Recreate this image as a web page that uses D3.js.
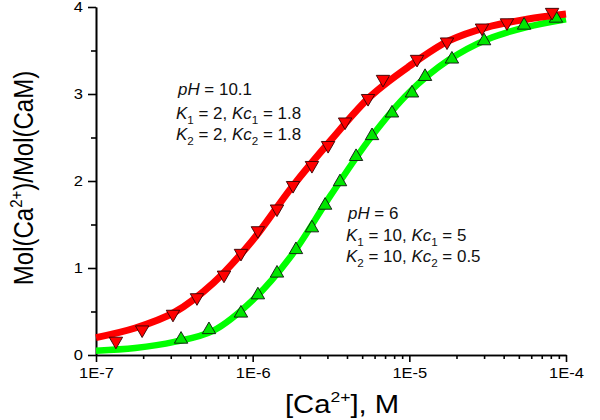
<!DOCTYPE html>
<html lang="en">
  <head>
    <meta charset="UTF-8" />
    <title>Ca binding</title>
    <script src="https://d3js.org/d3.v7.min.js"></script>
    <style>
      body {
        margin: 0;
        background: #fff;
      }
      svg {
        font-family: Arial, "Liberation Sans", sans-serif;
      }
      .axis path,
      .axis line {
        stroke: #000;
        stroke-width: 1.6;
      }
      .axis text {
        font-size: 15px;
        fill: #000;
      }
    </style>
  </head>
  <body>
    <svg id="chart" width="600" height="420"></svg>
    <script>
      // fitted curves, every quarter decade
      const fitX = [1e-7, 1.78e-7, 3.16e-7, 5.62e-7, 1e-6, 1.78e-6, 3.16e-6, 5.62e-6, 1e-5, 1.78e-5, 3.16e-5, 5.62e-5, 1e-4];
      const redFitY = [0.2, 0.31, 0.49, 0.83, 1.32, 1.93, 2.47, 2.97, 3.32, 3.61, 3.77, 3.86, 3.92];
      const greenFitY = [0.05, 0.08, 0.15, 0.28, 0.63, 1.15, 1.84, 2.49, 3.02, 3.39, 3.63, 3.77, 3.86];

      // measured points, pH 10.1 (down triangles)
      const redX = [1.34e-7, 1.97e-7, 3.1e-7, 4.41e-7, 6.56e-7, 8.42e-7, 1.08e-6, 1.43e-6, 1.81e-6, 2.39e-6, 3.03e-6, 3.89e-6, 5.45e-6, 6.79e-6, 1.12e-5, 1.74e-5, 2.91e-5, 4.2e-5, 8.15e-5];
      const redY = [0.16, 0.29, 0.47, 0.66, 0.92, 1.17, 1.43, 1.68, 1.95, 2.18, 2.41, 2.68, 2.95, 3.17, 3.4, 3.6, 3.76, 3.82, 3.94];

      // measured points, pH 6 (up triangles)
      const greenX = [3.49e-7, 5.26e-7, 8.42e-7, 1.08e-6, 1.43e-6, 1.89e-6, 2.39e-6, 2.9e-6, 3.61e-6, 4.57e-6, 5.78e-6, 7.75e-6, 1.04e-5, 1.26e-5, 1.87e-5, 3.0e-5, 5.4e-5, 8.63e-5];
      const greenY = [0.18, 0.29, 0.48, 0.69, 0.94, 1.21, 1.46, 1.72, 1.99, 2.28, 2.52, 2.78, 3.01, 3.2, 3.4, 3.61, 3.79, 3.87];

      const xMajor = [1e-7, 1e-6, 1e-5, 1e-4];
      const xMajorLabels = ["1E-7", "1E-6", "1E-5", "1E-4"];
      const yMajor = [0, 1, 2, 3, 4];
      const yMinor = [0.5, 1.5, 2.5, 3.5];

      const svg = d3.select("#chart");
      const x = d3.scaleLog().domain([1e-7, 1e-4]).range([96, 566]);
      const y = d3.scaleLinear().domain([0, 4]).range([355, 7]);

      // minor x ticks 2..9 in each decade
      const xMinor = [];
      xMajor.slice(0, -1).forEach((d) => {
        for (let k = 2; k <= 9; k++) xMinor.push(d * k);
      });

      svg.append("g")
        .attr("class", "axis")
        .attr("transform", "translate(0,355)")
        .call(d3.axisBottom(x).tickValues(xMinor).tickSize(4).tickSizeOuter(0).tickFormat(""));
      svg.append("g")
        .attr("class", "axis")
        .attr("transform", "translate(0,355)")
        .call(
          d3.axisBottom(x)
            .tickValues(xMajor)
            .tickSize(7)
            .tickSizeOuter(0)
            .tickPadding(5)
            .tickFormat((d, i) => xMajorLabels[i])
        )
        .selectAll("text")
        .attr("transform", "scale(1.1,1)");

      svg.append("g")
        .attr("class", "axis")
        .attr("transform", "translate(96,0)")
        .call(d3.axisLeft(y).tickValues(yMinor).tickSize(5).tickSizeOuter(0).tickFormat(""));
      svg.append("g")
        .attr("class", "axis")
        .attr("transform", "translate(96,0)")
        .call(d3.axisLeft(y).tickValues(yMajor).tickSize(8).tickSizeOuter(0).tickPadding(4).tickFormat(d3.format("d")))
        .selectAll("text")
        .attr("transform", "scale(1.1,1)");

      // fitted lines
      const line = d3.line()
        .x((d) => x(d[0]))
        .y((d) => y(d[1]))
        .curve(d3.curveCatmullRom);

      svg.append("path")
        .datum(fitX.map((d, i) => [d, greenFitY[i]]))
        .attr("d", line)
        .attr("fill", "none")
        .attr("stroke", "#00ff00")
        .attr("stroke-width", 6.5);
      svg.append("path")
        .datum(fitX.map((d, i) => [d, redFitY[i]]))
        .attr("d", line)
        .attr("fill", "none")
        .attr("stroke", "#ff0000")
        .attr("stroke-width", 7);

      // markers
      const tri = d3.symbol(d3.symbolTriangle, 78);
      svg.append("g")
        .selectAll("path")
        .data(greenX.map((d, i) => [d, greenY[i]]))
        .join("path")
        .attr("d", tri)
        .attr("transform", (d) => `translate(${x(d[0])},${y(d[1])})`)
        .attr("fill", "#00e600")
        .attr("stroke", "#111")
        .attr("stroke-width", 0.9);
      svg.append("g")
        .selectAll("path")
        .data(redX.map((d, i) => [d, redY[i]]))
        .join("path")
        .attr("d", tri)
        .attr("transform", (d) => `translate(${x(d[0])},${y(d[1])}) rotate(180)`)
        .attr("fill", "#ff0000")
        .attr("stroke", "#330000")
        .attr("stroke-width", 0.9);

      // annotations (glyphs a little wider than plain Arial, as in the source)
      function noteText(g, xPos, yPos) {
        return g.append("text")
          .attr("transform", `translate(${xPos},${yPos}) scale(1.06,1)`)
          .attr("font-size", 16)
          .attr("fill", "#111");
      }
      function kLine(g, xPos, yPos, k, kc, idx) {
        const t = noteText(g, xPos, yPos);
        t.append("tspan").attr("font-style", "italic").text("K");
        t.append("tspan").attr("font-size", 11).attr("dy", 5).text(idx);
        t.append("tspan").attr("dy", -5).text(" = " + k + ", ");
        t.append("tspan").attr("font-style", "italic").text("Kc");
        t.append("tspan").attr("font-size", 11).attr("dy", 5).text(idx);
        t.append("tspan").attr("dy", -5).text(" = " + kc);
      }
      function phLine(g, xPos, yPos, ph) {
        const t = noteText(g, xPos, yPos);
        t.append("tspan").attr("font-style", "italic").text("pH");
        t.append("tspan").text(" = " + ph);
      }
      const notes = svg.append("g");
      phLine(notes, 178, 95, "10.1");
      kLine(notes, 176, 119, "2", "1.8", "1");
      kLine(notes, 176, 140, "2", "1.8", "2");
      phLine(notes, 348, 219, "6");
      kLine(notes, 346, 241, "10", "5", "1");
      kLine(notes, 346, 262, "10", "0.5", "2");

      // axis titles
      const xt = svg.append("text")
        .attr("transform", "translate(342,413) scale(1.17,1)")
        .attr("text-anchor", "middle")
        .attr("font-size", 25)
        .attr("fill", "#000");
      xt.append("tspan").text("[Ca");
      xt.append("tspan").attr("font-size", 15).attr("dy", -11).text("2+");
      xt.append("tspan").attr("dy", 11).text("], M");

      const yt = svg.append("text")
        .attr("transform", "translate(33,178) scale(1.15,1) rotate(-90)")
        .attr("text-anchor", "middle")
        .attr("font-size", 24)
        .attr("fill", "#000");
      yt.append("tspan").text("Mol(Ca");
      yt.append("tspan").attr("font-size", 15).attr("dy", -10).text("2+");
      yt.append("tspan").attr("dy", 10).text(")/Mol(CaM)");
    </script>
  </body>
</html>
